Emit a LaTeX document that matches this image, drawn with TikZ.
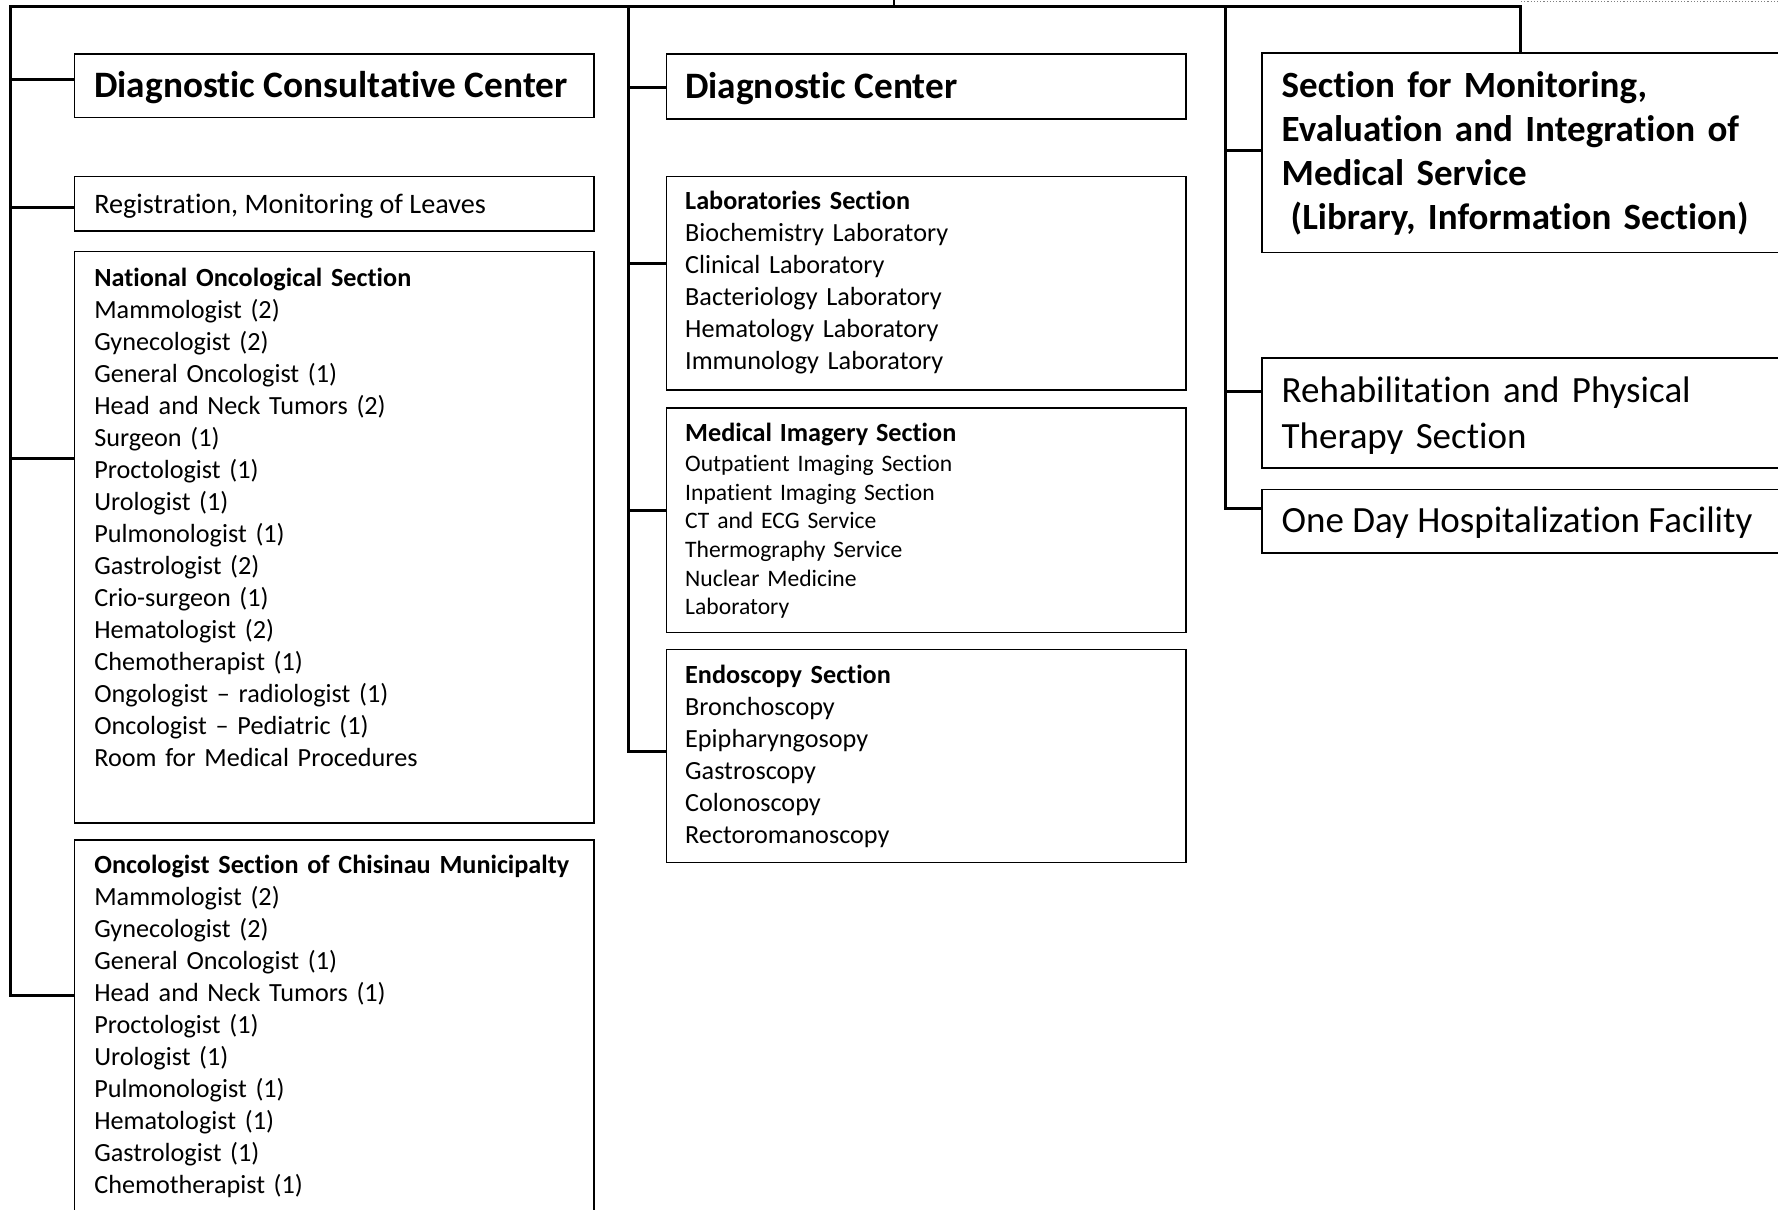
\documentclass[tikz,border=0pt]{standalone}
\usepackage{fontspec}
\setmainfont{Carlito}[Ligatures={TeX,NoCommon}]
\begin{document}
\begin{tikzpicture}[x=1pt,y=-1pt,
  frame/.style={draw, line width=1.6pt, inner sep=0pt, anchor=north west},
  wire/.style={line width=3pt},
  title/.style={anchor=base west, inner sep=0pt, font=\fontsize{37.3}{44.2}\selectfont\bfseries},
  bigtext/.style={anchor=north west, inner sep=0pt, text width=540pt, align=left, font=\fontsize{37}{45.4}\selectfont},
  body/.style={anchor=north west, inner sep=0pt, text width=500pt, align=left, font=\fontsize{26.2}{32}\selectfont},
  smallbody/.style={anchor=north west, inner sep=0pt, text width=500pt, align=left, font=\fontsize{23.6}{28.6}\selectfont},
  line/.style={anchor=base west, inner sep=0pt, font=\fontsize{28.2}{34}\selectfont}]
\useasboundingbox (0,0) rectangle (1778,1210);
\clip (0,0) rectangle (1778,1210);

% ---- frames ----
\node[frame, minimum width=519.3pt, minimum height=63.5pt]  (dcc)  at (73.7,53.3) {};
\node[frame, minimum width=519.3pt, minimum height=54.4pt]  (reg)  at (73.7,175.8) {};
\node[frame, minimum width=519.3pt, minimum height=571.6pt] (nat)  at (73.7,250.6) {};
\node[frame, minimum width=519.3pt, minimum height=400pt]   (chi)  at (73.7,839) {};
\node[frame, minimum width=519.3pt, minimum height=64.7pt]  (dc)   at (665.7,53.3) {};
\node[frame, minimum width=519.3pt, minimum height=213.2pt] (lab)  at (665.7,175.8) {};
\node[frame, minimum width=519.3pt, minimum height=224.6pt] (mi)   at (665.7,407) {};
\node[frame, minimum width=519.3pt, minimum height=213.2pt] (endo) at (665.7,648.6) {};
\node[frame, minimum width=560pt, minimum height=199.5pt]   (sfm)  at (1261,52.2) {};
\node[frame, minimum width=560pt, minimum height=110pt]     (reh)  at (1261,357.2) {};
\node[frame, minimum width=560pt, minimum height=63.5pt]    (one)  at (1261,488.8) {};

% ---- texts ----
\node[title] (dccT) at (94.1,97.9) {Diagnostic Consultative Center};
\node[line] (regT) at (94.1,213) {Registration, Monitoring of Leaves};
\node[body] (natT) at (94.1,263.8) {\strut\textbf{National Oncological Section}\\
  Mammologist (2)\\Gynecologist (2)\\General Oncologist (1)\\Head and Neck Tumors (2)\\
  Surgeon (1)\\Proctologist (1)\\Urologist (1)\\Pulmonologist (1)\\Gastrologist (2)\\
  Crio-surgeon (1)\\Hematologist (2)\\Chemotherapist (1)\\Ongologist -- radiologist (1)\\
  Oncologist -- Pediatric (1)\\Room for Medical Procedures};
\node[body] (chiT) at (94.1,851.2) {\strut\textbf{Oncologist Section of Chisinau Municipalty}\\
  Mammologist (2)\\Gynecologist (2)\\General Oncologist (1)\\Head and Neck Tumors (1)\\
  Proctologist (1)\\Urologist (1)\\Pulmonologist (1)\\Hematologist (1)\\Gastrologist (1)\\
  Chemotherapist (1)};

\node[title] (dcT) at (685,98.9) {Diagnostic Center};
\node[body] (labT) at (685,186.7) {\strut\textbf{Laboratories Section}\\
  Biochemistry Laboratory\\Clinical Laboratory\\Bacteriology Laboratory\\
  Hematology Laboratory\\Immunology Laboratory};
\node[smallbody] (miT) at (685,419.2) {\rule{0pt}{22.4pt}{\fontsize{26.2}{32}\selectfont\bfseries Medical Imagery Section}\\[1.2pt]
  Outpatient Imaging Section\\Inpatient Imaging Section\\CT and ECG Service\\
  Thermography Service\\Nuclear Medicine\\Laboratory};
\node[body] (endoT) at (685,660.7) {\strut\textbf{Endoscopy Section}\\
  Bronchoscopy\\Epipharyngosopy\\Gastroscopy\\Colonoscopy\\Rectoromanoscopy};

\node[bigtext, font=\fontsize{37}{44.2}\selectfont\bfseries] (sfmT) at (1281.5,65.9)
  {\strut Section for Monitoring,\\Evaluation and Integration of\\Medical Service\\\hspace*{9pt}(Library, Information Section)};
\node[bigtext] (rehT) at (1281.5,371) {\strut Rehabilitation and Physical\\Therapy Section};
\node[anchor=base west, inner sep=0pt, font=\fontsize{37}{45.4}\selectfont] (oneT) at (1281.5,532.3)
  {One Day Hospitalization Facility};

% ---- bus lines ----
\coordinate (root) at (893.6,0);
\coordinate (tl) at (10,6);
\coordinate (tr) at (1520.7,6);
\coordinate (mtop) at (628.2,6);
\coordinate (rtop) at (1225.9,6);
\coordinate (dotL) at (1521,1.2);
\coordinate (dotR) at (1778,1.2);

\draw[line width=2pt] (root) -- (root |- tl);
\draw[dotted, gray, line width=1.2pt] (dotL) -- (dotR);
\draw[wire] (chi.west |- 0,995.7) -| (tl) -- (tr) -- (tr |- sfm.north);
\draw[wire] (mtop) |- (endo.west |- 0,751.8);
\draw[wire] (rtop) |- (one.west |- 0,508);

% ---- branches ----
\coordinate (l1) at (10,79.4);
\coordinate (l2) at (10,207.5);
\coordinate (l3) at (10,458);
\coordinate (m1) at (628.2,87.3);
\coordinate (m2) at (628.2,263);
\coordinate (m3) at (628.2,510);
\coordinate (r1) at (1225.9,150.8);
\coordinate (r2) at (1225.9,391.2);
\draw[wire] (l1) -- (l1 -| dcc.west);
\draw[wire] (l2) -- (l2 -| reg.west);
\draw[wire] (l3) -- (l3 -| nat.west);
\draw[wire] (m1) -- (m1 -| dc.west);
\draw[wire] (m2) -- (m2 -| lab.west);
\draw[wire] (m3) -- (m3 -| mi.west);
\draw[wire] (r1) -- (r1 -| sfm.west);
\draw[wire] (r2) -- (r2 -| reh.west);
\end{tikzpicture}
\end{document}
